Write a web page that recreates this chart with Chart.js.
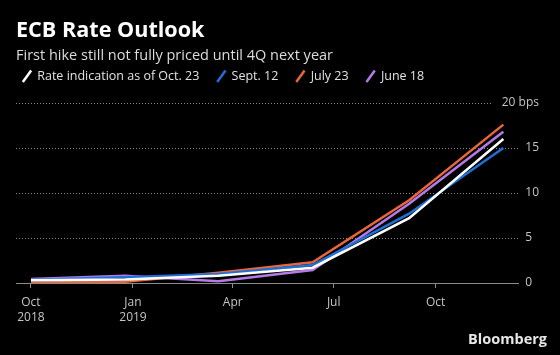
<!DOCTYPE html>
<html>
<head>
<meta charset="utf-8">
<script src="https://cdn.jsdelivr.net/npm/chart.js@4.4.1/dist/chart.umd.min.js"></script>
<style>
  html, body { margin: 0; padding: 0; background: #000; }
  #wrap { position: relative; width: 560px; height: 355px; background: #000; }
  #brand { position: absolute; right: 13px; top: 330.4px; font-family: "Open Sans", sans-serif; font-weight: 700; font-size: 14.5px; line-height: 18px; color: #e6e6e6; }
</style>
</head>
<body>
<div id="wrap">
  <canvas id="c" width="560" height="355"></canvas>
  <div id="brand">Bloomberg</div>
</div>
<script>
// ---- data ----
const seriesNames = ['Rate indication as of Oct. 23', 'Sept. 12', 'July 23', 'June 18'];
const pointDates = ['2018-10-01', '2018-12-25', '2019-03-19', '2019-06-12', '2019-09-07', '2019-12-01'];
const rateOct23 = [0.3, 0.4, 0.8, 1.7, 7.2, 16.0];
const rateSep12 = [0.35, 0.65, 1.0, 2.0, 7.7, 15.0];
const rateJul23 = [0.05, 0.15, 1.15, 2.3, 9.2, 17.6];
const rateJun18 = [0.45, 0.8, 0.2, 1.45, 8.8, 16.8];
const xTickDates = ['2018-10-01', '2019-01-01', '2019-04-01', '2019-07-01', '2019-10-01'];
const xTickLabels = [['Oct', '2018'], ['Jan', '2019'], 'Apr', 'Jul', 'Oct'];
const yTickValues = [0, 5, 10, 15, 20];
const yTickLabels = ['0', '5', '10', '15', '20 bps'];

const seriesColors = ['#ffffff', '#1f6fd8', '#e8673a', '#b57ae8'];
const FONT = '"Open Sans", Roboto, sans-serif';

const origin = Date.UTC(2018, 9, 1);
function dayNum(s) {
  const [y, m, d] = s.split('-').map(Number);
  return (Date.UTC(y, m - 1, d) - origin) / 864e5;
}
const xs = pointDates.map(dayNum);
const xTickPos = xTickDates.map(dayNum);

const allSeries = [rateOct23, rateSep12, rateJul23, rateJun18];
const datasets = allSeries.map((vals, i) => ({
  label: seriesNames[i],
  data: vals.map((v, j) => ({ x: xs[j], y: v })),
  borderColor: seriesColors[i],
  backgroundColor: seriesColors[i],
  borderWidth: 2.5,
  tension: 0,
  pointRadius: 0,
  pointHoverRadius: 0,
  pointStyle: 'line',
  pointRotation: -54,
  pointBorderColor: seriesColors[i],
  pointBorderWidth: 2.5,
  borderJoinStyle: 'miter'
}));

const legendShift = {
  id: 'legendShift',
  afterLayout(chart) {
    if (chart.legend) {
      chart.legend.left -= 11;
      chart.legend.top -= 10.6;
    }
  }
};

new Chart(document.getElementById('c'), {
  type: 'line',
  data: { datasets },
  plugins: [legendShift],
  options: {
    responsive: false,
    animation: false,
    events: [],
    layout: { padding: { left: 16, right: 0, top: 0, bottom: 22 } },
    plugins: {
      title: {
        display: true,
        text: 'ECB Rate Outlook',
        align: 'start',
        color: '#ffffff',
        font: { family: FONT, size: 21.6, weight: 'bold', lineHeight: 1.2 },
        padding: { top: 18.3, bottom: 0 }
      },
      subtitle: {
        display: true,
        text: 'First hike still not fully priced until 4Q next year',
        align: 'start',
        color: '#dcdcdc',
        font: { family: FONT, size: 14.5, lineHeight: 1.2 },
        padding: { top: 2.5, bottom: -1.6 }
      },
      legend: {
        display: true,
        position: 'top',
        align: 'start',
        labels: {
          usePointStyle: true,
          boxWidth: 8,
          boxHeight: 10,
          padding: 18,
          color: '#e2e2e2',
          font: { family: FONT, size: 12.5 }
        }
      },
      tooltip: { enabled: false }
    },
    scales: {
      x: {
        type: 'linear',
        min: -13.5,
        max: 439.2,
        afterBuildTicks(scale) { scale.ticks = xTickPos.map(v => ({ value: v })); },
        ticks: {
          autoSkip: false,
          maxRotation: 0,
          padding: 7.5,
          color: '#c4c4c4',
          font: { family: FONT, size: 12, lineHeight: 1.25 },
          callback(value, index) { return xTickLabels[index]; }
        },
        grid: { display: true, drawOnChartArea: false, drawTicks: true, tickLength: 5, tickColor: '#8c8c8c', tickWidth: 1 },
        border: { display: true, color: '#8c8c8c', width: 1 }
      },
      y: {
        type: 'linear',
        position: 'right',
        min: 0,
        max: 20,
        afterBuildTicks(scale) { scale.ticks = yTickValues.map(v => ({ value: v })); },
        ticks: {
          mirror: true,
          crossAlign: 'near',
          padding: 21,
          color: '#c4c4c4',
          font: { family: FONT, size: 12 },
          callback(value, index) {
            const t = yTickLabels[index];
            return t.length === 1 ? t + '\u2007' : t;
          },
          showLabelBackdrop: (ctx) => ctx.index === yTickValues.length - 1,
          backdropColor: '#000000',
          backdropPadding: { left: 10, right: 0, top: 2, bottom: 2 }
        },
        grid: {
          display: true,
          drawTicks: false,
          color: (ctx) => (ctx.tick && ctx.tick.value === 0) ? 'rgba(0,0,0,0)' : '#8a8a8a',
          lineWidth: 1
        },
        border: { display: false, dash: [1, 2] }
      }
    }
  }
});
</script>
</body>
</html>
